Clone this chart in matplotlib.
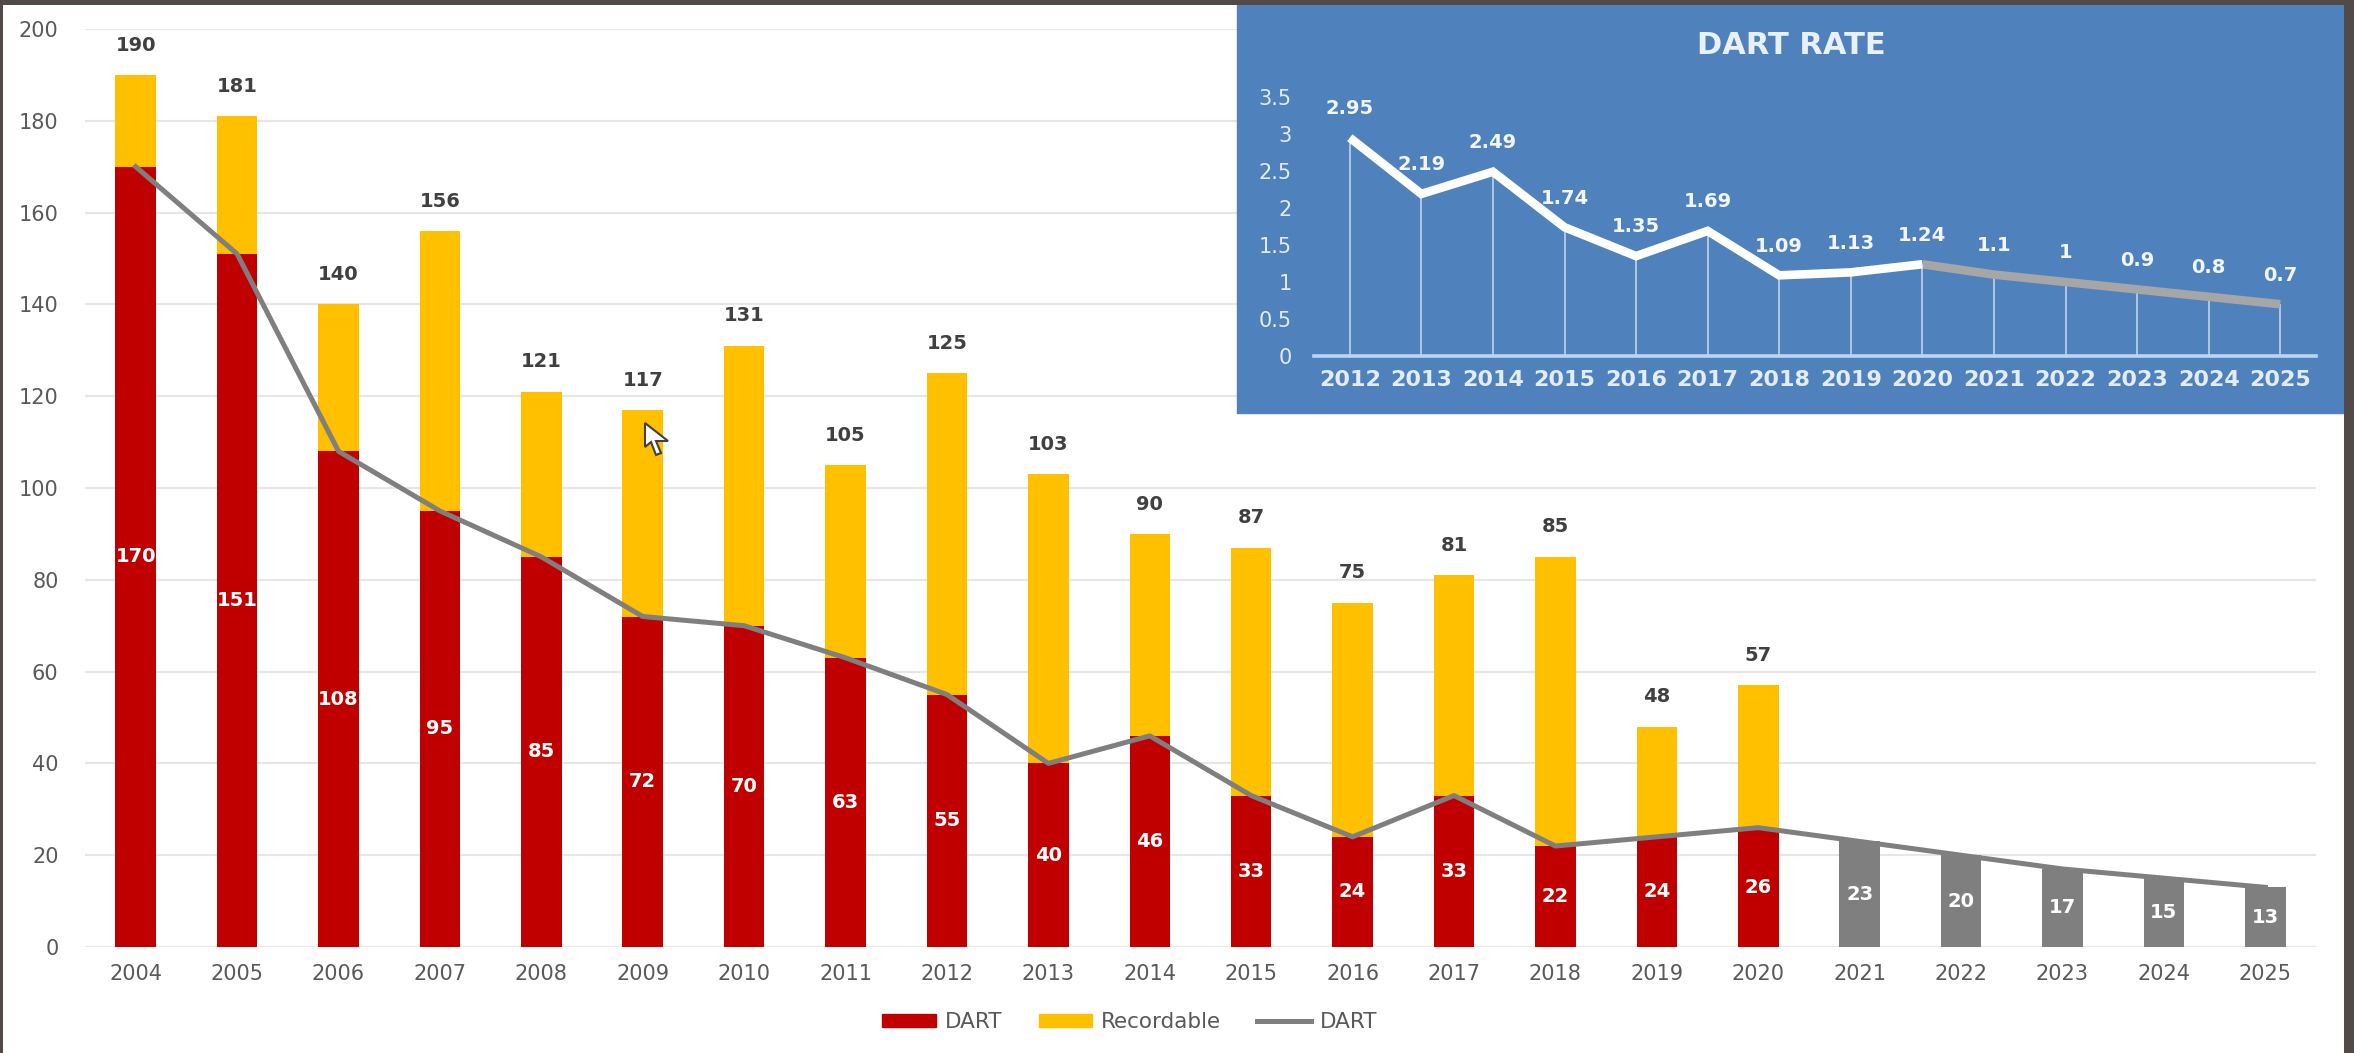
import numpy as np
import matplotlib
matplotlib.use('Agg')
import matplotlib.pyplot as plt
from matplotlib.patches import Rectangle, Patch, Polygon
from matplotlib.lines import Line2D

W, H = 2354, 1053

years = list(range(2004, 2026))
dart = [170, 151, 108, 95, 85, 72, 70, 63, 55, 40, 46, 33, 24, 33, 22, 24, 26, 23, 20, 17, 15, 13]
# totals only exist up to 2020, after that the bars are grey forecasts
totals = [190, 181, 140, 156, 121, 117, 131, 105, 125, 103, 90, 87, 75, 81, 85, 48, 57]

rate_years = list(range(2012, 2026))
rate = [2.95, 2.19, 2.49, 1.74, 1.35, 1.69, 1.09, 1.13, 1.24, 1.1, 1, 0.9, 0.8, 0.7]
rate_labels = ['2.95', '2.19', '2.49', '1.74', '1.35', '1.69', '1.09', '1.13', '1.24', '1.1', '1', '0.9', '0.8', '0.7']
rate_ticks = [0, 0.5, 1, 1.5, 2, 2.5, 3, 3.5]
rate_tick_labels = ['0', '0.5', '1', '1.5', '2', '2.5', '3', '3.5']

RED = '#C00000'
YELLOW = '#FFC000'
GREY = '#7F7F7F'
BLUE = '#4F81BD'
FRAME = '#524A46'
TEXT = '#595959'

plt.rcParams['font.family'] = 'DejaVu Sans'


def box(left, top, right, bottom):
    # pixel box (from the top left) to figure fractions
    return [left / W, 1 - bottom / H, (right - left) / W, (bottom - top) / H]


fig = plt.figure(figsize=(W / 100, H / 100), dpi=100, facecolor='white')

# main chart
ax = fig.add_axes(box(85, 29, 2316, 947))
n_actual = len(totals)
recordable = [t - d for t, d in zip(totals, dart)]
ax.bar(years[:n_actual], dart[:n_actual], width=0.4, color=RED)
ax.bar(years[:n_actual], recordable, width=0.4, bottom=dart[:n_actual], color=YELLOW)
ax.bar(years[n_actual:], dart[n_actual:], width=0.4, color=GREY)
ax.plot(years, dart, color=GREY, lw=3.6, solid_joinstyle='round')

for x, d in zip(years, dart):
    ax.text(x, d / 2, str(d), color='white', fontsize=14, fontweight='bold', ha='center', va='center')
for x, t in zip(years, totals):
    ax.annotate(str(t), (x, t), xytext=(0, 21.5), textcoords='offset points', color='#404040',
                fontsize=14, fontweight='bold', ha='center', va='center')

ax.set_xlim(2003.5, 2025.5)
ax.set_ylim(0, 200)
ax.set_yticks(range(0, 201, 20))
ax.set_xticks(years)
ax.grid(axis='y', color='#E6E6E6', lw=1.5)
ax.set_axisbelow(True)
for s in ax.spines.values():
    s.set_visible(False)
ax.tick_params(axis='both', length=0, labelsize=15, labelcolor=TEXT)
ax.tick_params(axis='x', pad=12)
ax.tick_params(axis='y', pad=19)

handles = [Patch(color=RED, label='DART'), Patch(color=YELLOW, label='Recordable'),
           Line2D([0], [0], color=GREY, lw=3.6, label='DART')]
fig.legend(handles=handles, loc='center', bbox_to_anchor=(1130 / W, 1 - 1022 / H), ncol=3, frameon=False,
           fontsize=15.5, labelcolor=TEXT, handlelength=2.5, handleheight=0.6, handletextpad=0.42, columnspacing=1.67)

# inset panel
fig.add_artist(Rectangle((1237 / W, 1 - 413 / H), (2344 - 1237) / W, 408 / H, transform=fig.transFigure,
                         color=BLUE, zorder=1))
ins = fig.add_axes(box(1314, 97, 2316, 356), zorder=2)
ins.patch.set_visible(False)
n_rate_actual = rate_years.index(2020) + 1
ins.vlines(rate_years, 0, rate, color='white', lw=1.1, alpha=0.7)
ins.plot(rate_years[n_rate_actual - 1:], rate[n_rate_actual - 1:], color='#A6A6A6', lw=6.2, solid_capstyle='butt')
ins.plot(rate_years[:n_rate_actual], rate[:n_rate_actual], color='white', lw=6.2, solid_joinstyle='miter',
         solid_capstyle='butt')
for x, v, label in zip(rate_years, rate, rate_labels):
    ins.annotate(label, (x, v), xytext=(0, 21), textcoords='offset points', color='#F2F6FB',
                 fontsize=14, fontweight='bold', ha='center', va='center')
ins.set_xlim(2011.5, 2025.5)
ins.set_ylim(0, 3.5)
ins.set_xticks(rate_years)
ins.set_yticks(rate_ticks)
ins.set_yticklabels(rate_tick_labels)
for name, s in ins.spines.items():
    s.set_visible(name == 'bottom')
ins.spines['bottom'].set_color('#BBD6F2')
ins.spines['bottom'].set_linewidth(2.6)
ins.tick_params(axis='both', length=0, labelcolor='#E4EDF7')
ins.tick_params(axis='x', labelsize=16, pad=10)
ins.tick_params(axis='y', labelsize=15, pad=16)
for t in ins.get_xticklabels():
    t.set_fontweight('bold')
fig.text(1791 / W, 1 - 46 / H, 'DART RATE', color='#E9F0F8', fontsize=22, fontweight='bold',
         ha='center', va='center', zorder=3)

# mouse pointer left in the screenshot
cursor = np.array([[645, 423], [645, 447], [651, 442], [656, 455], [661, 453], [656, 441], [668, 441]], dtype=float)
cursor[:, 0] /= W
cursor[:, 1] = 1 - cursor[:, 1] / H
fig.add_artist(Polygon(cursor, closed=True, transform=fig.transFigure, facecolor='white', edgecolor='#404040',
                       lw=1.5, zorder=4))

# dark screenshot border
for x0, y0, x1, y1 in [(0, 0, W, 5), (0, 0, 3, H), (2344, 0, W, H)]:
    fig.add_artist(Rectangle((x0 / W, 1 - y1 / H), (x1 - x0) / W, (y1 - y0) / H, transform=fig.transFigure,
                             color=FRAME, lw=0, zorder=5))

fig.savefig('out.png', dpi=100)
